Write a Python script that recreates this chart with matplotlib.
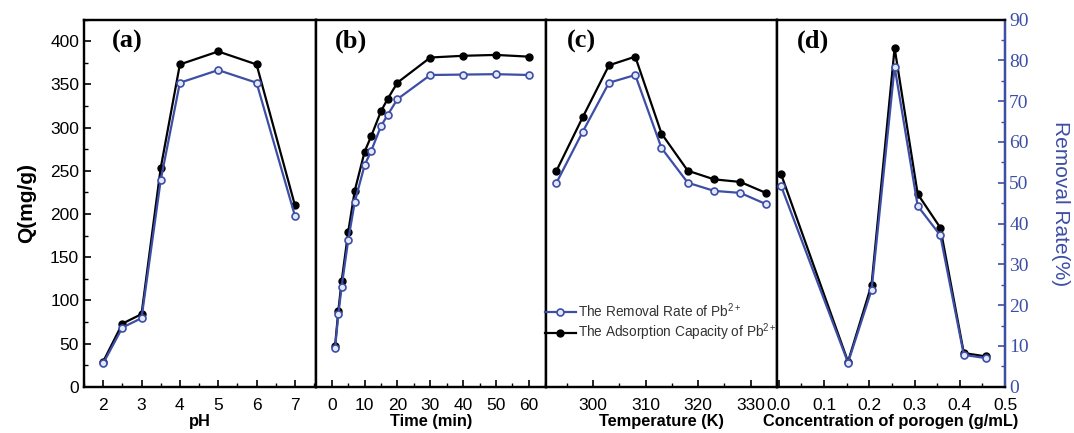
import matplotlib
matplotlib.use("Agg")
import matplotlib.pyplot as plt
from matplotlib.ticker import MultipleLocator

plt.rcParams['mathtext.fontset'] = 'custom'
plt.rcParams['mathtext.rm'] = 'Liberation Sans'
plt.rcParams['mathtext.it'] = 'Liberation Sans:italic'
plt.rcParams['mathtext.bf'] = 'Liberation Sans:bold'

# ---- data ----
# (a) pH
ph = [2, 2.5, 3, 3.5, 4, 5, 6, 7]
ph_q = [29, 73, 84, 253, 373, 388, 373, 210]
ph_rate = [5.7, 14.5, 16.8, 50.6, 74.5, 77.6, 74.5, 41.9]

# (b) time
time_min = [1, 2, 3, 5, 7, 10, 12, 15, 17, 20, 30, 40, 50, 60]
time_q = [47, 88, 122, 179, 227, 272, 290, 319, 333, 352, 381, 383, 384, 382]
time_rate = [9.4, 17.7, 24.5, 35.9, 45.3, 54.3, 57.8, 63.9, 66.6, 70.5, 76.4, 76.5, 76.6, 76.4]

# (c) temperature
temp_k = [293, 298, 303, 308, 313, 318, 323, 328, 333]
temp_q = [250, 312, 372, 382, 293, 250, 240, 237, 224]
temp_rate = [50.0, 62.5, 74.5, 76.4, 58.5, 50.0, 48.0, 47.5, 44.7]

# (d) porogen concentration
poro = [0.005, 0.153, 0.205, 0.256, 0.307, 0.357, 0.409, 0.458]
poro_q = [246, 29, 118, 392, 223, 184, 39, 35]
poro_rate = [49.2, 5.9, 23.7, 78.4, 44.3, 37.1, 7.8, 7.0]

blue = '#3c4ea6'
sans = 'Liberation Sans'
serif = 'Liberation Serif'

fig = plt.figure(figsize=(10.74, 4.33), dpi=100)

bottom = 1 - 386.7 / 433
height = (386.7 - 19.5) / 433
edges = [84, 316, 546, 777, 1005]

panels = [
    (ph, ph_q, ph_rate, (1.5, 7.55), [2, 3, 4, 5, 6, 7], 0.5, 'pH', '(a)', 0.12),
    (time_min, time_q, time_rate, (-4.8, 65.2), [0, 10, 20, 30, 40, 50, 60], 5, 'Time (min)', '(b)', 0.083),
    (temp_k, temp_q, temp_rate, (291, 335), [300, 310, 320, 330], 5, 'Temperature (K)', '(c)', 0.09),
    (poro, poro_q, poro_rate, (-0.004, 0.492), [0.0, 0.1, 0.2, 0.3, 0.4, 0.5], 0.05,
     'Concentration of porogen (g/mL)', '(d)', 0.088),
]

for i, (x, q, r, xlim, xt, minor, xlabel, tag, tagx) in enumerate(panels):
    left = edges[i] / 1074
    width = (edges[i + 1] - edges[i]) / 1074
    ax = fig.add_axes([left, bottom, width, height])
    ax2 = ax.twinx()

    ax.plot(x, q, color='black', lw=1.6, marker='o', ms=5, mfc='black', mec='black',
            label='The Adsorption Capacity of Pb$^{2+}$', zorder=3)
    ax2.plot(x, r, color=blue, lw=1.6, marker='o', ms=5, mfc='#e4e8f8', mec=blue,
             mew=1.2, label='The Removal Rate of Pb$^{2+}$', zorder=3)

    ax.set_xlim(*xlim)
    ax.set_ylim(0, 425)
    ax2.set_ylim(0, 90)
    ax.set_xticks(xt)
    if i == 3:
        ax.set_xticklabels(['%.1f' % v for v in xt])
    ax.xaxis.set_minor_locator(MultipleLocator(minor))
    ax.tick_params(axis='x', which='major', direction='in', length=5, width=1.2,
                   labelsize=12.5, top=False, pad=8)
    ax.tick_params(axis='x', which='minor', direction='in', length=3, width=1.0, top=False)
    for lab in ax.get_xticklabels():
        lab.set_fontfamily(sans)
    ax.set_xlabel(xlabel, fontsize=11.8, fontweight='bold', fontfamily=sans, labelpad=1)

    if i == 0:
        ax.yaxis.set_major_locator(MultipleLocator(50))
        ax.yaxis.set_minor_locator(MultipleLocator(25))
        ax.tick_params(axis='y', which='major', direction='in', length=5, width=1.2,
                       labelsize=12.5, right=False)
        ax.tick_params(axis='y', which='minor', direction='in', length=3, width=1.0, right=False)
        for lab in ax.get_yticklabels():
            lab.set_fontfamily(sans)
        ax.set_ylabel('Q(mg/g)', fontsize=15, fontweight='bold', fontfamily=sans, labelpad=10)
    else:
        ax.tick_params(axis='y', which='both', left=False, right=False, labelleft=False)

    if i == 3:
        ax2.yaxis.set_major_locator(MultipleLocator(10))
        ax2.yaxis.set_minor_locator(MultipleLocator(5))
        ax2.tick_params(axis='y', which='major', direction='in', length=5, width=1.2,
                        labelsize=14, colors=blue, pad=3)
        ax2.tick_params(axis='y', which='minor', direction='in', length=3, width=1.0, colors=blue)
        for lab in ax2.get_yticklabels():
            lab.set_fontfamily(serif)
        ax2.set_ylabel('Removal Rate(%)', fontsize=15, fontfamily=sans, color=blue,
                       rotation=270, labelpad=30)
    else:
        ax2.tick_params(axis='y', which='both', left=False, right=False, labelright=False)

    for a in (ax, ax2):
        for s in a.spines.values():
            s.set_linewidth(1.6)
    if i == 3:
        ax2.spines['right'].set_color(blue)

    ax.text(tagx, 0.94, tag, transform=ax.transAxes, fontsize=19, fontweight='bold',
            fontfamily=serif, ha='left', va='center')

    if i == 2:
        h1, l1 = ax2.get_legend_handles_labels()
        h2, l2 = ax.get_legend_handles_labels()
        leg = ax2.legend(h1 + h2, l1 + l2, loc='lower left', bbox_to_anchor=(-0.005, 0.118),
                         frameon=False, handlelength=2.3, handletextpad=0.15,
                         borderaxespad=0, borderpad=0, labelspacing=0.12,
                         prop={'family': sans, 'size': 9.8})
        for t in leg.get_texts():
            t.set_color('#333333')

fig.savefig('out.png', dpi=100)
